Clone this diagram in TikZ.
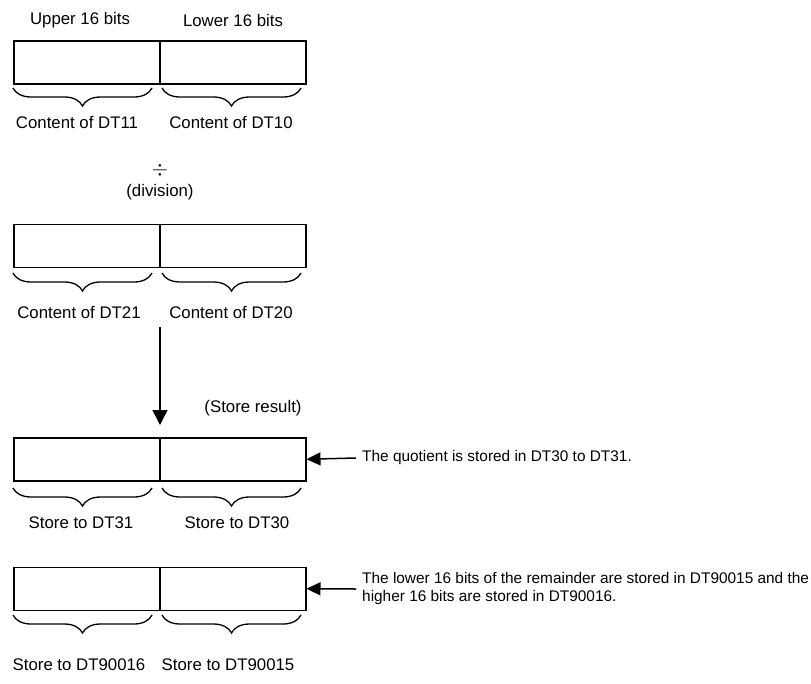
\documentclass[tikz,border=0pt]{standalone}
\usepackage{fontspec}
\setmainfont{Liberation Sans}
\usetikzlibrary{decorations.pathreplacing,arrows.meta}
\begin{document}
\begin{tikzpicture}[x=1pt,y=-1pt,
  half/.style={draw,line width=1.5pt,minimum width=146pt,minimum height=43pt,inner sep=0pt,anchor=north west},
  brc/.style={decorate,decoration={brace,mirror,amplitude=18pt,aspect=0.5},line width=1.3pt},
  lbl/.style={font=\fontsize{16.8}{19}\selectfont,inner sep=0pt},
  note/.style={font=\fontsize{15.4}{18}\selectfont,inner sep=0pt,anchor=west,align=left},
  arr/.style={line width=1.5pt,-{Triangle[length=15pt,width=15pt]}},
  sarr/.style={line width=1.5pt,-{Triangle[length=14pt,width=13pt]}}]
\useasboundingbox (0,0) rectangle (811,683);
% Box 1
\node[lbl] (up) at (80,20) {Upper 16 bits};
\node[lbl] (lo) at (233,20) {Lower 16 bits};
\node[half] (b1l) at (13,40) {};
\node[half] (b1r) at (159,40) {};
\draw[brc] (13,88) -- (152,88);
\draw[brc] (162,88) -- (301,88);
\node[lbl] (c11) at (77,123) {Content of DT11};
\node[lbl] (c10) at (231,123) {Content of DT10};
% division
\node[inner sep=0pt,font=\fontsize{21}{24}\selectfont] (div) at (160,170) {$\div$};
\node[lbl] (divt) at (160,192) {(division)};
% Box 2
\node[half] (b2l) at (13,223.5) {};
\node[half] (b2r) at (159,223.5) {};
\draw[brc] (13,273) -- (152,273);
\draw[brc] (162,273) -- (301,273);
\node[lbl] (c21) at (79,312) {Content of DT21};
\node[lbl] (c20) at (231,312) {Content of DT20};
% arrow
\coordinate (a0) at (160,327);
\coordinate (a1) at (160,425);
\draw[arr] (a0) -- (a1);
\node[lbl] (sr) at (253,408) {(Store result)};
% Box 3
\node[half] (b3l) at (13,437) {};
\node[half] (b3r) at (159,437) {};
\draw[brc] (13,488) -- (152,488);
\draw[brc] (162,488) -- (301,488);
\node[lbl] (s31) at (81,523) {Store to DT31};
\node[lbl] (s30) at (237,523) {Store to DT30};
\node[note] (q) at (356,458) {\hspace*{6pt}The quotient is stored in DT30 to DT31.};
\draw[sarr] (q.west) -- (b3r.east);
% Box 4
\node[half] (b4l) at (13,566.5) {};
\node[half] (b4r) at (159,566.5) {};
\draw[brc] (13,615) -- (152,615);
\draw[brc] (162,615) -- (301,615);
\node[lbl] (s16) at (79,665) {Store to DT90016};
\node[lbl] (s15) at (228,665) {Store to DT90015};
\node[note] (r) at (362,589) {The lower 16 bits of the remainder are stored in DT90015 and the\\higher 16 bits are stored in DT90016.};
\draw[sarr] ([xshift=-6pt]r.west) -- (b4r.east);
\end{tikzpicture}
\end{document}
